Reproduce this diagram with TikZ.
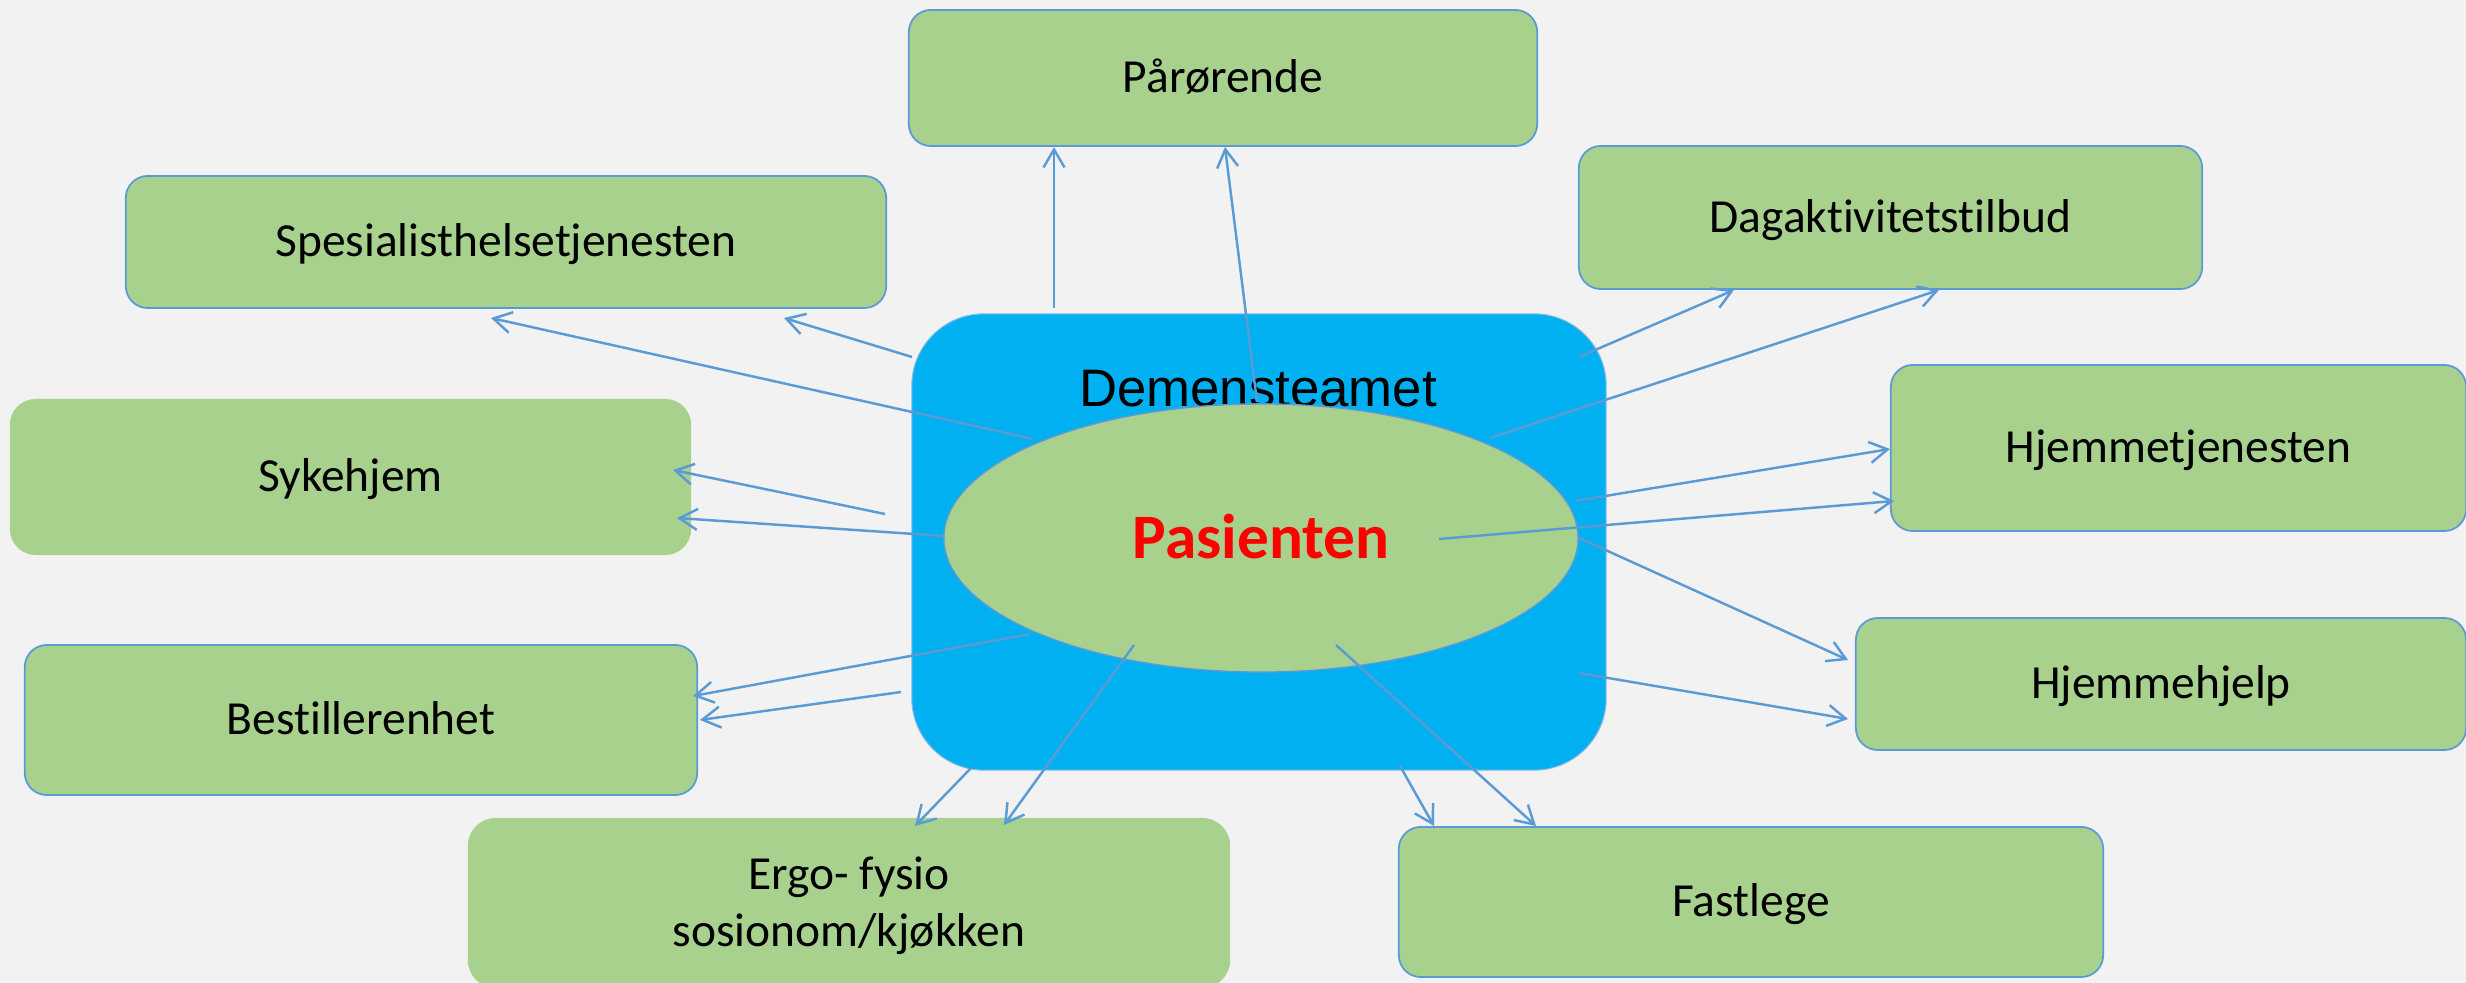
\documentclass[tikz,border=0pt]{standalone}
\usepackage{fontspec}
\setmainfont[Ligatures=CommonOff]{Carlito}
\newfontfamily\arialf{Liberation Sans}
\usetikzlibrary{arrows.meta,shapes.geometric}
\definecolor{bg}{HTML}{F2F2F2}
\definecolor{gfill}{HTML}{A9D18E}
\definecolor{bfill}{HTML}{00B0F0}
\definecolor{lblue}{HTML}{5B9BD5}
\begin{document}
\begin{tikzpicture}[x=0.01cm,y=-0.01cm,
  gbox/.style={rectangle, rounded corners=0.22cm, fill=gfill, draw=lblue, line width=0.5pt,
    inner sep=0pt, text height=8.5pt, text depth=0pt, align=center,
    font=\fontsize{13.5pt}{16.2pt}\selectfont},
  nobord/.style={draw=none},
  conn/.style={lblue, line width=0.7pt, -{Straight Barb[length=0.18cm,width=0.21cm]}},
]
\useasboundingbox (0,0) rectangle (2466,983);
\fill[bg] (0,0) rectangle (2466,983);

% outer boxes
\node[gbox, minimum width=6.28cm, minimum height=1.36cm] (par) at (1223,78) {Pårørende};
\node[gbox, minimum width=7.60cm, minimum height=1.32cm] (spes) at (506,242) {Spesialisthelsetjenesten};
\node[gbox, nobord, rounded corners=0.26cm, minimum width=6.81cm, minimum height=1.56cm] (syk) at (350.5,477) {Sykehjem};
\node[gbox, minimum width=6.72cm, minimum height=1.50cm] (best) at (361,720) {Bestillerenhet};
\node[gbox, nobord, rounded corners=0.28cm, minimum width=7.62cm, minimum height=1.70cm,
  text height=24.7pt] (ergo) at (849,903) {Ergo- fysio\\sosionom/kjøkken};
\node[gbox, minimum width=7.04cm, minimum height=1.50cm] (fast) at (1751,902) {Fastlege};
\node[gbox, minimum width=6.10cm, minimum height=1.32cm] (hjelp) at (2161,684) {Hjemmehjelp};
\node[gbox, minimum width=5.75cm, minimum height=1.66cm] (hjt) at (2178.5,448) {Hjemmetjenesten};
\node[gbox, minimum width=6.23cm, minimum height=1.43cm] (dag) at (1890.5,217.5) {Dagaktivitetstilbud};

% central
\node[rectangle, rounded corners=0.72cm, fill=bfill, draw=lblue!70, line width=0.3pt,
  minimum width=6.94cm, minimum height=4.56cm, inner sep=0pt] (demt) at (1259,542) {};
\node[anchor=base, inner sep=0pt, font=\arialf\fontsize{15pt}{17pt}\selectfont] (dtitle) at (1258,407) {Demensteamet};
\node[ellipse, fill=gfill, draw=lblue, line width=0.4pt, inner sep=0pt,
  minimum width=6.34cm, minimum height=2.68cm, text height=11.5pt, text depth=0pt,
  text=red, font=\bfseries\fontsize{18pt}{20pt}\selectfont] (pas) at (1261,538) {Pasienten};

% connector end points
\coordinate (s1) at (1054,308);  \coordinate (e1) at (1054,147);
\coordinate (s2) at (1257,402);  \coordinate (e2) at (1225,147);
\coordinate (s3) at (912,357);   \coordinate (e3) at (784,318);
\coordinate (s4) at (1033,439);  \coordinate (e4) at (491,318);
\coordinate (s5) at (885,514);   \coordinate (e5) at (673,470);
\coordinate (s6) at (944,536);   \coordinate (e6) at (677,518);
\coordinate (s7) at (1030,634);  \coordinate (e7) at (693,696);
\coordinate (s8) at (901,692);   \coordinate (e8) at (700,720);
\coordinate (s9) at (971,768);   \coordinate (e9) at (915,826);
\coordinate (s10) at (1134,645); \coordinate (e10) at (1004,825);
\coordinate (s11) at (1400,766); \coordinate (e11) at (1434,826);
\coordinate (s12) at (1336,645); \coordinate (e12) at (1536,826);
\coordinate (s13) at (1579,673); \coordinate (e13) at (1848,719);
\coordinate (s14) at (1579,538); \coordinate (e14) at (1848,660);
\coordinate (s15) at (1439,539); \coordinate (e15) at (1894,501);
\coordinate (s16) at (1575,501); \coordinate (e16) at (1890,449);
\coordinate (s17) at (1579,357); \coordinate (e17) at (1734,290);
\coordinate (s18) at (1490,438); \coordinate (e18) at (1939,290);

\foreach \i in {1,...,18} { \draw[conn] (s\i) -- (e\i); }
\end{tikzpicture}
\end{document}
